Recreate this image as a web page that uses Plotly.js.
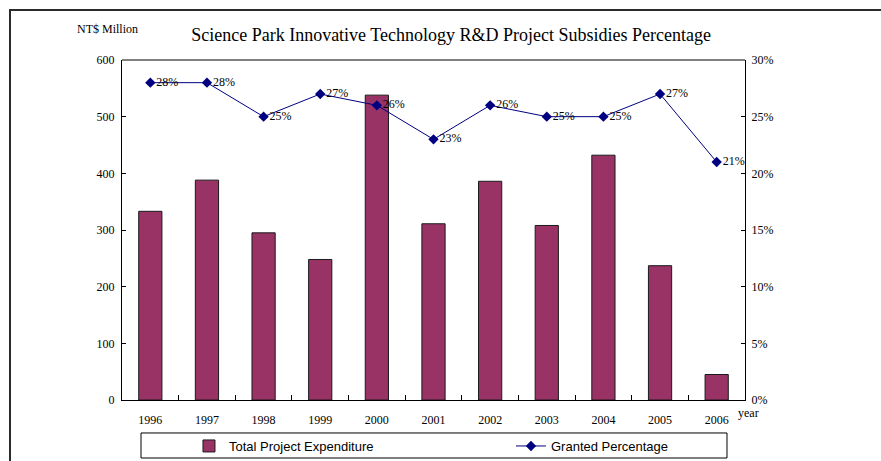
<!DOCTYPE html>
<html>
<head>
<meta charset="utf-8">
<script src="https://cdn.plot.ly/plotly-3.0.1.min.js"></script>
<style>
html,body{margin:0;padding:0;background:#fff;}
#wrap{position:relative;width:881px;height:461px;overflow:hidden;}
#chart{position:absolute;left:0;top:0;width:881px;height:461px;}
#frame{position:absolute;left:9px;top:9px;width:900px;height:500px;border-top:2px solid #2b2b2b;border-left:2px solid #2b2b2b;pointer-events:none;}
</style>
</head>
<body>
<div id="wrap"><div id="chart"></div><div id="frame"></div></div>
<script>
var years = ['1996','1997','1998','1999','2000','2001','2002','2003','2004','2005','2006'];
var expenditure = [333, 388, 295, 248, 538, 311, 386, 308, 432, 237, 45];
var grantedPct = [0.28, 0.28, 0.25, 0.27, 0.26, 0.23, 0.26, 0.25, 0.25, 0.27, 0.21];
var leftTicks = [0, 100, 200, 300, 400, 500, 600];
var rightTicks = [0, 0.05, 0.10, 0.15, 0.20, 0.25, 0.30];

var serif = 'Liberation Serif, Times New Roman, serif';
var sans = 'Liberation Sans, Arial, sans-serif';
var pctText = grantedPct.map(function(v){ return Math.round(v*100) + '%'; });

var traces = [
  {
    type: 'bar', x: years, y: expenditure, name: 'Total Project Expenditure',
    marker: {color: '#993366', line: {color: '#1a1a1a', width: 1}},
    width: 0.41, yaxis: 'y', legend: 'legend', hoverinfo: 'x+y'
  },
  {
    type: 'scatter', mode: 'lines+markers+text', x: years, y: grantedPct,
    name: 'Granted Percentage', yaxis: 'y2', legend: 'legend2',
    line: {color: '#000080', width: 1},
    marker: {symbol: 'diamond', size: 8, color: '#000080'},
    text: pctText, textposition: 'middle right',
    textfont: {family: serif, size: 12, color: '#000'},
    cliponaxis: false
  }
];

var legendBase = {
  orientation: 'h', xref: 'container', yref: 'container',
  xanchor: 'left', y: 0.0325, yanchor: 'middle',
  font: {family: sans, size: 13, color: '#000'},
  bgcolor: 'rgba(0,0,0,0)', borderwidth: 0
};

var layout = {
  width: 881, height: 461,
  margin: {l: 122, r: 136, t: 60, b: 61, autoexpand: false},
  paper_bgcolor: '#fff', plot_bgcolor: '#fff',
  showlegend: true,
  font: {family: serif, size: 12, color: '#000'},
  title: {
    text: 'Science Park Innovative Technology R&D Project Subsidies Percentage',
    font: {family: serif, size: 18, color: '#000'},
    x: 0.512, xref: 'container', xanchor: 'center',
    y: 0.925, yref: 'container', yanchor: 'middle'
  },
  xaxis: {
    type: 'category', range: [-0.5, 10.5], autorange: false,
    showline: true, linecolor: '#000', linewidth: 1,
    ticks: 'inside', ticklen: 5, tickcolor: '#000', tickson: 'boundaries',
    ticklabelstandoff: 9,
    showgrid: false, zeroline: false,
    tickfont: {family: serif, size: 12, color: '#000'}
  },
  yaxis: {
    range: [0, 600], tickvals: leftTicks, showline: true, linecolor: '#000', linewidth: 1,
    ticks: 'inside', ticklen: 4, tickcolor: '#000', showgrid: false, zeroline: false,
    ticklabelstandoff: 4,
    tickfont: {family: serif, size: 12, color: '#000'}
  },
  yaxis2: {
    overlaying: 'y', side: 'right', range: [0, 0.30], tickvals: rightTicks,
    tickformat: '.0%', showline: true, linecolor: '#000', linewidth: 1,
    ticks: 'inside', ticklen: 4, tickcolor: '#000', showgrid: false, zeroline: false,
    ticklabelstandoff: 3,
    tickfont: {family: serif, size: 12, color: '#000'}
  },
  legend: Object.assign({}, legendBase, {x: 0.2145}),
  legend2: Object.assign({}, legendBase, {x: 0.58}),
  shapes: [
    {type: 'line', xref: 'paper', yref: 'paper', x0: 0, x1: 1, y0: 1, y1: 1,
     line: {color: '#808080', width: 2}},
    {type: 'rect', xref: 'paper', yref: 'paper', x0: 0.0305, x1: 0.9711, y0: -0.097, y1: -0.1706,
     line: {color: '#000', width: 1}}
  ],
  annotations: [
    {text: 'NT$ Million', xref: 'paper', yref: 'paper', x: -0.0225, y: 1.092,
     xanchor: 'center', yanchor: 'middle', showarrow: false,
     font: {family: serif, size: 12, color: '#000'}},
    {text: 'year', xref: 'paper', yref: 'paper', x: 0.985, y: -0.037,
     xanchor: 'left', yanchor: 'middle', showarrow: false,
     font: {family: serif, size: 12, color: '#000'}}
  ]
};

Plotly.newPlot('chart', traces, layout, {displayModeBar: false, staticPlot: true});
</script>
</body>
</html>
